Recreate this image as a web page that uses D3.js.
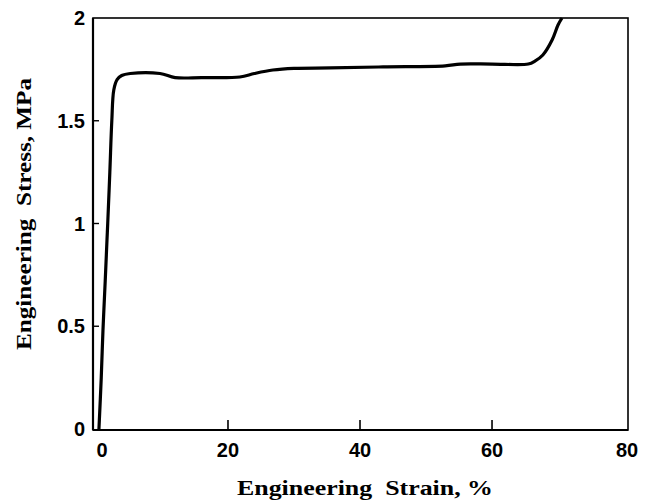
<!DOCTYPE html>
<html>
<head>
<meta charset="utf-8">
<script src="https://cdn.jsdelivr.net/npm/d3@7.9.0/dist/d3.min.js"></script>
<style>
  body { margin: 0; background: #fff; }
  .tick-label { font-family: "Liberation Sans", Arial, sans-serif; font-weight: bold; font-size: 20px; fill: #000; }
  .axis-title { font-family: "Liberation Serif", "Times New Roman", serif; font-weight: bold; font-size: 20px; fill: #000; }
</style>
</head>
<body>
<svg id="chart" width="650" height="501"></svg>
<script>
// stress-strain curve
const strain = [0.45, 0.8, 1.06, 1.4, 1.67, 1.78, 2.1, 2.4, 2.7, 3.2, 3.9, 5.2, 9.7, 12, 16, 21.8, 24, 26.8, 30, 35.5, 43.5, 52.9, 55.2, 60, 65.5, 66.5, 67.7, 69.1, 70.0, 70.6];
const stress = [0, 0.25, 0.48, 0.72, 0.92, 1.0, 1.25, 1.5, 1.65, 1.70, 1.72, 1.73, 1.73, 1.71, 1.71, 1.713, 1.73, 1.747, 1.755, 1.757, 1.762, 1.767, 1.776, 1.776, 1.776, 1.79, 1.82, 1.893, 1.966, 2.0];
const xTicks = [0, 20, 40, 60, 80];
const yTicks = [0, 0.5, 1, 1.5, 2];

const svg = d3.select('#chart');
const plotL = 93, plotR = 628, plotT = 18, plotB = 430;

const x = d3.scaleLinear().domain([-0.45, 80.6]).range([plotL, plotR]);
const y = d3.scaleLinear().domain([0, 2]).range([plotB - 1, plotT]);

// frame
svg.append('rect')
  .attr('x', plotL).attr('y', plotT)
  .attr('width', plotR - plotL).attr('height', plotB - plotT)
  .attr('fill', 'none').attr('stroke', '#000').attr('stroke-width', 1.6);
svg.append('line')
  .attr('x1', plotL).attr('x2', plotL).attr('y1', plotT).attr('y2', plotB)
  .attr('stroke', '#000').attr('stroke-width', 2.2);
svg.append('line')
  .attr('x1', plotL).attr('x2', plotR).attr('y1', plotB).attr('y2', plotB)
  .attr('stroke', '#000').attr('stroke-width', 2.2);

// x ticks (inward); end labels nudged like the original
const xLabelNudge = { 0: 6, 80: 3 };
xTicks.forEach((t) => {
  if (t > 0 && t < 80) {
    svg.append('line')
      .attr('x1', x(t)).attr('x2', x(t)).attr('y1', plotB).attr('y2', plotB - 10)
      .attr('stroke', '#000').attr('stroke-width', 1.6);
  }
  svg.append('text')
    .attr('class', 'tick-label')
    .attr('x', x(t) + (xLabelNudge[t] || 0)).attr('y', 457)
    .attr('text-anchor', 'middle')
    .text(t);
});

// y ticks (inward)
yTicks.forEach((t) => {
  if (t > 0 && t < 2) {
    svg.append('line')
      .attr('x1', plotL).attr('x2', plotL + 6).attr('y1', y(t)).attr('y2', y(t))
      .attr('stroke', '#000').attr('stroke-width', 1.4);
  }
  svg.append('text')
    .attr('class', 'tick-label')
    .attr('x', 85).attr('y', y(t) + 7)
    .attr('text-anchor', 'end')
    .text(t);
});

// curve
const data = strain.map((s, i) => [s, stress[i]]);
const line = d3.line()
  .x((d) => x(d[0]))
  .y((d) => y(d[1]))
  .curve(d3.curveCatmullRom.alpha(0.5));

svg.append('path')
  .datum(data)
  .attr('d', line)
  .attr('fill', 'none')
  .attr('stroke', '#000')
  .attr('stroke-width', 3.2)
  .attr('stroke-linejoin', 'round');

// axis titles (stretched wide like the original)
svg.append('text')
  .attr('class', 'axis-title')
  .attr('x', 237).attr('y', 495)
  .attr('textLength', 256)
  .attr('lengthAdjust', 'spacingAndGlyphs')
  .style('white-space', 'pre')
  .text('Engineering  Strain, %');

svg.append('text')
  .attr('class', 'axis-title')
  .attr('transform', 'translate(31,350) rotate(-90)')
  .attr('textLength', 272)
  .attr('lengthAdjust', 'spacingAndGlyphs')
  .style('white-space', 'pre')
  .text('Engineering  Stress, MPa');
</script>
</body>
</html>
